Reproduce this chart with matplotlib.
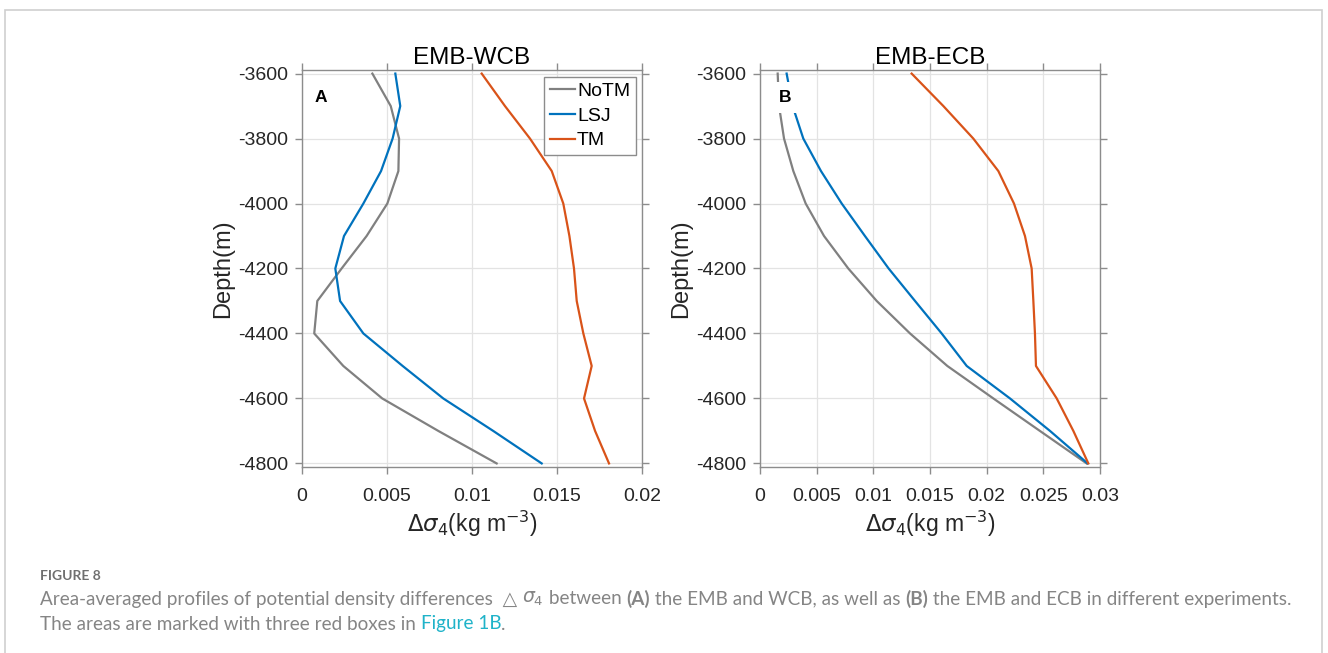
import matplotlib
matplotlib.use("Agg")
import matplotlib.pyplot as plt
from matplotlib.patches import Rectangle

plt.rcParams['font.family'] = ['Liberation Sans', 'DejaVu Sans']
plt.rcParams['mathtext.fontset'] = 'dejavusans'

# ---------------- data ----------------
depth = [-3600, -3700, -3800, -3900, -4000, -4100, -4200,
         -4300, -4400, -4500, -4600, -4700, -4800]

wcb_notm = [0.00414, 0.00522, 0.00571, 0.00567, 0.00502, 0.00380, 0.00233,
            0.00090, 0.00072, 0.00243, 0.00472, 0.00802, 0.01145]
wcb_lsj = [0.00549, 0.00578, 0.00533, 0.00465, 0.00361, 0.00247, 0.00196,
           0.00224, 0.00361, 0.00592, 0.00831, 0.01125, 0.01410]
wcb_tm = [0.01057, 0.01194, 0.01341, 0.01469, 0.01537, 0.01573, 0.01600,
          0.01616, 0.01655, 0.01704, 0.01659, 0.01724, 0.01806]

ecb_notm = [0.00156, 0.00168, 0.00212, 0.00294, 0.00403, 0.00565, 0.00779,
            0.01030, 0.01324, 0.01653, 0.02059, 0.02470, 0.02882]
ecb_lsj = [0.00235, 0.00288, 0.00382, 0.00538, 0.00721, 0.00926, 0.01135,
           0.01368, 0.01603, 0.01824, 0.02206, 0.02559, 0.02891]
ecb_tm = [0.01338, 0.01618, 0.01882, 0.02103, 0.02241, 0.02338, 0.02397,
          0.02412, 0.02426, 0.02435, 0.02618, 0.02765, 0.02897]

series_names = ['NoTM', 'LSJ', 'TM']
series_colors = ['#808080', '#0072BD', '#D95319']

panel_titles = ['EMB-WCB', 'EMB-ECB']
panel_letters = ['A', 'B']
xticks_a = [0, 0.005, 0.01, 0.015, 0.02]
xticklabels_a = ['0', '0.005', '0.01', '0.015', '0.02']
xticks_b = [0, 0.005, 0.01, 0.015, 0.02, 0.025, 0.03]
xticklabels_b = ['0', '0.005', '0.01', '0.015', '0.02', '0.025', '0.03']
yticks = [-3600, -3800, -4000, -4200, -4400, -4600, -4800]
yticklabels = ['-3600', '-3800', '-4000', '-4200', '-4400', '-4600', '-4800']

# ---------------- figure ----------------
W, H = 1328, 653
fig = plt.figure(figsize=(W / 100, H / 100), dpi=100)
fig.patch.set_facecolor('white')

def px_rect(l, t, r, b):
    return [l / W, 1 - b / H, (r - l) / W, (b - t) / H]

# outer frame
fig.patches.append(Rectangle((5 / W, -0.05), (1322 - 5) / W, 1 - 10 / H + 0.05,
                             transform=fig.transFigure, fill=False,
                             edgecolor='#cfcfcf', linewidth=1.2, zorder=0))

axA = fig.add_axes(px_rect(302, 70, 642, 467))
axB = fig.add_axes(px_rect(760, 70, 1100, 467))

spine_col = '#8c8c8c'
text_col = '#262626'

panels = [
    (axA, [wcb_notm, wcb_lsj, wcb_tm], (0, 0.02), xticks_a, xticklabels_a),
    (axB, [ecb_notm, ecb_lsj, ecb_tm], (0, 0.03), xticks_b, xticklabels_b),
]

for i, (ax, data, xlim, xt, xtl) in enumerate(panels):
    for vals, name, col in zip(data, series_names, series_colors):
        ax.plot(vals, depth, color=col, linewidth=1.6, label=name, zorder=3)
    ax.set_xlim(*xlim)
    ax.set_ylim(-4811, -3589)
    ax.set_xticks(xt)
    ax.set_xticklabels(xtl)
    ax.set_yticks(yticks)
    ax.set_yticklabels(yticklabels)
    ax.grid(True, color='#e3e3e3', linewidth=0.9, zorder=0)
    ax.set_axisbelow(True)
    for s in ax.spines.values():
        s.set_color(spine_col)
        s.set_linewidth(1.0)
    ax.tick_params(direction='out', length=5, width=1.0, color=spine_col,
                   labelcolor=text_col, labelsize=14, top=True, right=True,
                   pad=5)
    ax.tick_params(axis='x', pad=10)
    ax.set_title(panel_titles[i], fontsize=17.5, color='black', pad=4)
    ax.set_ylabel('Depth(m)', fontsize=17, color=text_col)
    ax.yaxis.set_label_coords(-0.2, 0.5)
    ax.set_xlabel(r'$\Delta\sigma_4$' + '(kg m$^{-3}$)', fontsize=16.5,
                  color=text_col)
    ax.xaxis.set_label_coords(0.5, -0.105)

# panel letters
axA.text(0.056, 0.93, panel_letters[0], transform=axA.transAxes,
         fontsize=12.5, fontweight='bold', ha='center', va='center',
         color='black', zorder=5)
axB.text(0.074, 0.93, panel_letters[1], transform=axB.transAxes,
         fontsize=12.5, fontweight='bold', ha='center', va='center',
         color='black', zorder=5,
         bbox=dict(boxstyle='square,pad=0.45', facecolor='white',
                   edgecolor='none'))

# legend
leg = axA.legend(loc='upper right', bbox_to_anchor=(0.982, 0.983),
                 fontsize=14, frameon=True, fancybox=False,
                 edgecolor=spine_col, framealpha=1, handlelength=1.25,
                 handletextpad=0.12, borderpad=0.3, labelspacing=0.36,
                 borderaxespad=0.0)
leg.get_frame().set_linewidth(1.0)
leg.set_zorder(4)

# ---------------- caption ----------------
cap_font = ['Lato', 'DejaVu Sans']
cap_col = '#858585'
fig.text(40 / W, 1 - 576 / H, 'FIGURE 8', fontsize=10, fontweight='bold',
         color='#6f6f6f', family=cap_font, va='center', ha='left')

fig.canvas.draw()
renderer = fig.canvas.get_renderer()

def write_line(pieces, x0, yc, size=13.6):
    x = x0
    for txt, weight, col in pieces:
        t = fig.text(x / W, 1 - yc / H, txt, fontsize=size, fontweight=weight,
                     color=col, family=cap_font, va='center', ha='left')
        bb = t.get_window_extent(renderer=renderer)
        x += bb.width

line1 = [
    ('Area-averaged profiles of potential density differences  \u25B3 ', 'normal', cap_col),
    (r'$\sigma_4$', 'normal', cap_col),
    (' between ', 'normal', cap_col),
    ('(A)', 'bold', cap_col),
    (' the EMB and WCB, as well as ', 'normal', cap_col),
    ('(B)', 'bold', cap_col),
    (' the EMB and ECB in different experiments.', 'normal', cap_col),
]
line2 = [
    ('The areas are marked with three red boxes in ', 'normal', cap_col),
    ('Figure 1B', 'normal', '#1fb3c9'),
    ('.', 'normal', cap_col),
]
write_line(line1, 40, 599)
write_line(line2, 40, 624)

fig.savefig('out.png', dpi=100, facecolor='white')
